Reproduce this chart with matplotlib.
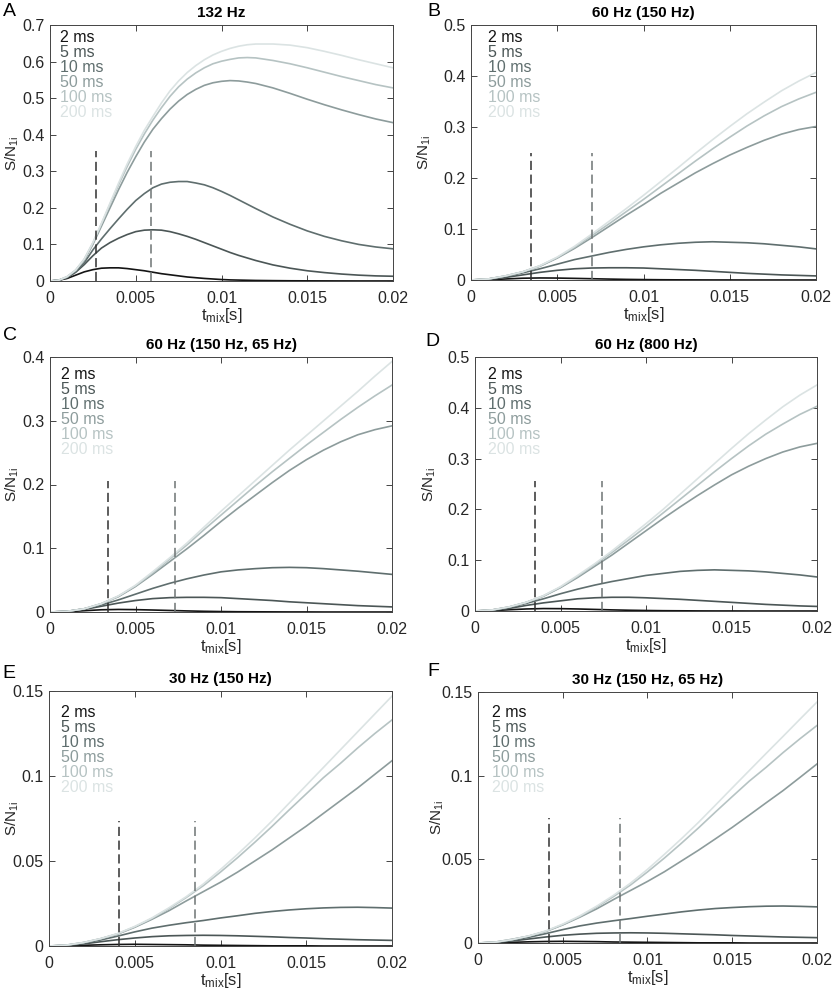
import numpy as np
import matplotlib
matplotlib.use("Agg")
import matplotlib.pyplot as plt
from matplotlib.ticker import FuncFormatter

plt.rcParams["font.family"] = ["Liberation Sans", "DejaVu Sans"]
plt.rcParams["mathtext.fontset"] = "custom"
plt.rcParams["mathtext.rm"] = "Liberation Sans"
plt.rcParams["mathtext.it"] = "Liberation Sans:italic"

# mixing time grid (s); panel A is read more finely on its steep part
tmix = np.linspace(0, 0.02, 21)
tA = list(np.arange(0, 0.0121, 0.0005)) + [0.013, 0.014, 0.015, 0.016, 0.017, 0.018, 0.019, 0.02]

labels = ["2 ms", "5 ms", "10 ms", "50 ms", "100 ms", "200 ms"]
colors = ["#141414", "#4b5656", "#5f6e6e", "#8d9c9c", "#b6c3c3", "#dbe3e3"]

# A: 132 Hz
A_2ms = [0, 0.002, 0.007, 0.016, 0.025, 0.031, 0.035, 0.036, 0.036, 0.034, 0.031, 0.028, 0.024, 0.02, 0.017, 0.014, 0.011, 0.009, 0.007, 0.0055, 0.004, 0.003, 0.0025, 0.002, 0.0015,
         0.001, 0.0006, 0.0004, 0.0003, 0.0002, 0.0001, 0.0001, 0.0001]
A_5ms = [0, 0.002, 0.009, 0.024, 0.045, 0.069, 0.09, 0.105, 0.117, 0.127, 0.135, 0.139, 0.14, 0.139, 0.135, 0.129, 0.122, 0.114, 0.105, 0.096, 0.087, 0.078, 0.07, 0.063, 0.056,
         0.044, 0.035, 0.028, 0.023, 0.019, 0.016, 0.014, 0.013]
A_10ms = [0, 0.002, 0.01, 0.026, 0.05, 0.085, 0.115, 0.143, 0.17, 0.196, 0.22, 0.239, 0.255, 0.265, 0.27, 0.272, 0.272, 0.268, 0.263, 0.255, 0.245, 0.234, 0.222, 0.21, 0.198,
          0.175, 0.155, 0.137, 0.122, 0.11, 0.1, 0.093, 0.088]
A_50ms = [0, 0.002, 0.011, 0.029, 0.057, 0.1, 0.15, 0.2, 0.25, 0.297, 0.34, 0.38, 0.415, 0.444, 0.47, 0.492, 0.51, 0.524, 0.535, 0.542, 0.546, 0.548, 0.547, 0.544, 0.54,
          0.528, 0.513, 0.497, 0.482, 0.468, 0.455, 0.443, 0.433]
A_100ms = [0, 0.002, 0.012, 0.03, 0.06, 0.104, 0.156, 0.21, 0.263, 0.313, 0.36, 0.402, 0.44, 0.474, 0.505, 0.531, 0.552, 0.569, 0.583, 0.594, 0.601, 0.606, 0.61, 0.611, 0.61,
           0.603, 0.594, 0.583, 0.571, 0.559, 0.548, 0.537, 0.528]
A_200ms = [0, 0.002, 0.012, 0.03, 0.06, 0.105, 0.158, 0.213, 0.268, 0.32, 0.368, 0.412, 0.45, 0.487, 0.52, 0.547, 0.57, 0.589, 0.605, 0.618, 0.628, 0.636, 0.642, 0.646, 0.648,
           0.648, 0.645, 0.638, 0.628, 0.617, 0.605, 0.594, 0.583]

# B: 60 Hz (150 Hz)
B_2ms = [0, 0.0005, 0.002, 0.0035, 0.004, 0.0038, 0.0032, 0.0025, 0.0018, 0.0012, 0.0008, 0.0005, 0.0003, 0.0002, 0.0001, 0.0001, 0, 0, 0, 0, 0]
B_5ms = [0, 0.001, 0.005, 0.01, 0.015, 0.019, 0.022, 0.0235, 0.024, 0.024, 0.0235, 0.022, 0.0205, 0.019, 0.017, 0.015, 0.013, 0.0115, 0.01, 0.009, 0.008]
B_10ms = [0, 0.002, 0.007, 0.014, 0.022, 0.031, 0.04, 0.047, 0.054, 0.06, 0.065, 0.069, 0.072, 0.074, 0.075, 0.074, 0.073, 0.071, 0.068, 0.065, 0.061]
B_50ms = [0, 0.002, 0.008, 0.016, 0.027, 0.043, 0.062, 0.083, 0.105, 0.127, 0.148, 0.17, 0.19, 0.21, 0.228, 0.245, 0.26, 0.274, 0.286, 0.295, 0.301]
B_100ms = [0, 0.002, 0.008, 0.016, 0.028, 0.044, 0.064, 0.087, 0.11, 0.134, 0.158, 0.183, 0.208, 0.233, 0.257, 0.28, 0.302, 0.322, 0.34, 0.355, 0.368]
B_200ms = [0, 0.002, 0.008, 0.016, 0.028, 0.045, 0.066, 0.09, 0.115, 0.14, 0.166, 0.193, 0.22, 0.248, 0.275, 0.301, 0.326, 0.349, 0.371, 0.39, 0.407]

# C: 60 Hz (150 Hz, 65 Hz)
C_2ms = [0, 0.0005, 0.002, 0.0035, 0.004, 0.0037, 0.0031, 0.0024, 0.0017, 0.0011, 0.0007, 0.0004, 0.0003, 0.0002, 0.0001, 0.0001, 0, 0, 0, 0, 0]
C_5ms = [0, 0.001, 0.004, 0.009, 0.014, 0.018, 0.021, 0.0225, 0.023, 0.023, 0.0225, 0.021, 0.0195, 0.018, 0.016, 0.0145, 0.013, 0.0115, 0.01, 0.009, 0.008]
C_10ms = [0, 0.001, 0.005, 0.011, 0.019, 0.028, 0.037, 0.045, 0.052, 0.058, 0.063, 0.066, 0.068, 0.0695, 0.07, 0.0695, 0.068, 0.066, 0.064, 0.0615, 0.059]
C_50ms = [0, 0.001, 0.005, 0.013, 0.024, 0.04, 0.059, 0.079, 0.099, 0.12, 0.142, 0.163, 0.183, 0.203, 0.222, 0.239, 0.254, 0.267, 0.278, 0.286, 0.292]
C_100ms = [0, 0.001, 0.005, 0.013, 0.025, 0.041, 0.061, 0.083, 0.105, 0.129, 0.152, 0.175, 0.198, 0.22, 0.241, 0.262, 0.282, 0.302, 0.321, 0.339, 0.356]
C_200ms = [0, 0.001, 0.005, 0.013, 0.025, 0.042, 0.063, 0.085, 0.108, 0.133, 0.158, 0.182, 0.206, 0.23, 0.254, 0.277, 0.3, 0.323, 0.346, 0.37, 0.393]

# D: 60 Hz (800 Hz)
D_2ms = [0, 0.0006, 0.0025, 0.004, 0.0048, 0.0046, 0.004, 0.0031, 0.0022, 0.0015, 0.001, 0.0006, 0.0004, 0.0002, 0.0001, 0.0001, 0, 0, 0, 0, 0]
D_5ms = [0, 0.001, 0.005, 0.011, 0.016, 0.02, 0.024, 0.026, 0.027, 0.027, 0.026, 0.0245, 0.023, 0.021, 0.019, 0.017, 0.015, 0.013, 0.0115, 0.01, 0.009]
D_10ms = [0, 0.002, 0.007, 0.015, 0.024, 0.034, 0.043, 0.051, 0.058, 0.064, 0.07, 0.074, 0.078, 0.08, 0.081, 0.08, 0.079, 0.077, 0.074, 0.071, 0.067]
D_50ms = [0, 0.002, 0.008, 0.017, 0.029, 0.046, 0.066, 0.088, 0.11, 0.134, 0.158, 0.182, 0.205, 0.227, 0.248, 0.268, 0.285, 0.3, 0.313, 0.323, 0.33]
D_100ms = [0, 0.002, 0.008, 0.017, 0.03, 0.047, 0.068, 0.091, 0.115, 0.14, 0.166, 0.193, 0.22, 0.247, 0.274, 0.3, 0.325, 0.348, 0.368, 0.387, 0.403]
D_200ms = [0, 0.002, 0.008, 0.017, 0.03, 0.048, 0.07, 0.093, 0.118, 0.145, 0.172, 0.2, 0.23, 0.26, 0.29, 0.32, 0.349, 0.376, 0.402, 0.425, 0.445]

# E: 30 Hz (150 Hz)
E_2ms = [0, 0.0001, 0.0004, 0.0007, 0.0009, 0.001, 0.0009, 0.0008, 0.0007, 0.0005, 0.0004, 0.0003, 0.0002, 0.0001, 0.0001, 0.0001, 0, 0, 0, 0, 0]
E_5ms = [0, 0.0003, 0.0012, 0.0025, 0.0037, 0.0047, 0.0055, 0.006, 0.0062, 0.0063, 0.0062, 0.006, 0.0057, 0.0054, 0.005, 0.0047, 0.0043, 0.004, 0.0037, 0.0035, 0.0033]
E_10ms = [0, 0.0004, 0.0017, 0.0035, 0.0058, 0.0083, 0.0105, 0.0122, 0.0137, 0.015, 0.0165, 0.0178, 0.0192, 0.0203, 0.0212, 0.0219, 0.0224, 0.0227, 0.0228, 0.0226, 0.0223]
E_50ms = [0, 0.0005, 0.002, 0.0042, 0.007, 0.011, 0.0157, 0.0208, 0.0265, 0.032, 0.0375, 0.0435, 0.05, 0.0565, 0.0635, 0.0705, 0.078, 0.0855, 0.093, 0.101, 0.109]
E_100ms = [0, 0.0005, 0.002, 0.0043, 0.0072, 0.0113, 0.0162, 0.022, 0.0285, 0.0355, 0.0435, 0.052, 0.061, 0.0703, 0.08, 0.0895, 0.099, 0.1075, 0.1165, 0.125, 0.133]
E_200ms = [0, 0.0005, 0.002, 0.0043, 0.0073, 0.0115, 0.0165, 0.0225, 0.029, 0.0365, 0.045, 0.054, 0.0635, 0.0735, 0.084, 0.0945, 0.105, 0.1155, 0.126, 0.1365, 0.147]

# F: 30 Hz (150 Hz, 65 Hz)
F_2ms = [0, 0.0001, 0.0004, 0.0007, 0.0009, 0.001, 0.0009, 0.0008, 0.0006, 0.0005, 0.0004, 0.0003, 0.0002, 0.0001, 0.0001, 0.0001, 0, 0, 0, 0, 0]
F_5ms = [0, 0.0003, 0.0012, 0.0024, 0.0036, 0.0046, 0.0053, 0.0058, 0.006, 0.0061, 0.006, 0.0058, 0.0055, 0.0052, 0.0049, 0.0045, 0.0042, 0.0039, 0.0036, 0.0034, 0.0032]
F_10ms = [0, 0.0004, 0.0016, 0.0034, 0.0056, 0.008, 0.0102, 0.0119, 0.0133, 0.0146, 0.016, 0.0173, 0.0186, 0.0197, 0.0206, 0.0212, 0.0217, 0.022, 0.0221, 0.0219, 0.0216]
F_50ms = [0, 0.0005, 0.0022, 0.0041, 0.0069, 0.0108, 0.0154, 0.0204, 0.026, 0.0314, 0.0368, 0.0426, 0.049, 0.0554, 0.0622, 0.0691, 0.0764, 0.0838, 0.0911, 0.099, 0.107]
F_100ms = [0, 0.0005, 0.002, 0.0042, 0.007, 0.011, 0.0158, 0.0215, 0.0278, 0.0347, 0.0425, 0.0508, 0.0596, 0.0687, 0.0782, 0.0875, 0.0967, 0.105, 0.1138, 0.1221, 0.13]
F_200ms = [0, 0.0005, 0.002, 0.0042, 0.0072, 0.0113, 0.0162, 0.022, 0.0285, 0.0358, 0.044, 0.053, 0.0623, 0.072, 0.0823, 0.0927, 0.103, 0.1133, 0.1235, 0.1338, 0.144]

titles = ["132 Hz", "60 Hz (150 Hz)", "60 Hz (150 Hz, 65 Hz)", "60 Hz (800 Hz)",
          "30 Hz (150 Hz)", "30 Hz (150 Hz, 65 Hz)"]
letters = ["A", "B", "C", "D", "E", "F"]
ymax = [0.7, 0.5, 0.4, 0.5, 0.15, 0.15]
ystep = [0.1, 0.1, 0.1, 0.1, 0.05, 0.05]
# dashed marker lines: (x1, x2, height)
marks = [(0.0027, 0.0059, 0.355), (0.0035, 0.0070, 0.25), (0.0034, 0.0073, 0.205),
         (0.0035, 0.0074, 0.255), (0.0041, 0.0085, 0.0735), (0.0042, 0.0084, 0.075)]

series = [
    [A_2ms, A_5ms, A_10ms, A_50ms, A_100ms, A_200ms],
    [B_2ms, B_5ms, B_10ms, B_50ms, B_100ms, B_200ms],
    [C_2ms, C_5ms, C_10ms, C_50ms, C_100ms, C_200ms],
    [D_2ms, D_5ms, D_10ms, D_50ms, D_100ms, D_200ms],
    [E_2ms, E_5ms, E_10ms, E_50ms, E_100ms, E_200ms],
    [F_2ms, F_5ms, F_10ms, F_50ms, F_100ms, F_200ms],
]
times = [tA, tmix, tmix, tmix, tmix, tmix]

# layout in figure pixels
boxes = [(50, 25, 393, 281), (471, 25, 816, 280),
         (50, 357, 392, 612), (475, 357, 817, 611),
         (49, 691, 392, 946), (478, 692, 817, 943)]   # left, top, right, bottom
legend_off = [(10, 8), (17, 8), (11, 13), (13, 13), (12, 17), (14, 16)]  # px from top-left
ylabel_right = [21, 433, 21, 438, 21, 446]
letter_pos = [(3, 3), (427, 3), (3, 327), (425, 333), (2, 665), (427, 663)]

W, H = 832, 992
fig = plt.figure(figsize=(W / 100, H / 100), dpi=100)
axcol = "#262626"
fmt = FuncFormatter(lambda v, p: f"{v:g}")

for i in range(6):
    l, t, r, b = boxes[i]
    aw, ah = r - l, b - t
    ax = fig.add_axes([l / W, (H - b) / H, aw / W, ah / H])
    for ys, lab, c in zip(series[i], labels, colors):
        ax.plot(times[i], ys, color=c, lw=1.2, label=lab)
    x1, x2, h = marks[i]
    ax.vlines(x1, 0, h, colors="#303030", linestyles=(0, (6, 3)), lw=1.1)
    ax.vlines(x2, 0, h, colors="#6e7474", linestyles=(0, (6, 3)), lw=1.1)

    ax.set_xlim(0, 0.02)
    ax.set_ylim(0, ymax[i])
    ax.set_xticks([0, 0.005, 0.01, 0.015, 0.02])
    ax.set_yticks(np.arange(0, ymax[i] + 1e-9, ystep[i]))
    ax.xaxis.set_major_formatter(fmt)
    ax.yaxis.set_major_formatter(fmt)
    ax.tick_params(direction="in", top=True, right=True, length=4, width=0.6,
                   color=axcol, labelcolor=axcol, labelsize=11.5)
    ax.tick_params(axis="x", pad=7)
    ax.tick_params(axis="y", pad=4)
    for sp in ax.spines.values():
        sp.set_color("#444444")
        sp.set_linewidth(0.7)

    ax.set_title(titles[i], fontsize=11, fontweight="bold", pad=6)
    ax.set_xlabel(r"t$_{\mathrm{mix}}$[s]", fontsize=12, color=axcol, labelpad=0)
    ax.set_ylabel(r"S/N$_{\mathrm{1i}}$", fontsize=11, color=axcol)
    ax.yaxis.set_label_coords((ylabel_right[i] - l) / aw, 0.5)

    dx, dy = legend_off[i]
    ax.legend(loc="upper left", bbox_to_anchor=(dx / aw, 1 - (dy - 3) / ah),
              handlelength=0, handletextpad=0, frameon=False,
              labelcolor="linecolor", fontsize=11.5, labelspacing=0,
              borderaxespad=0, borderpad=0)

    lx, ly = letter_pos[i]
    fig.text(lx / W, 1 - ly / H, letters[i], fontsize=14, va="top", ha="left")

fig.savefig("out.png", dpi=100)
